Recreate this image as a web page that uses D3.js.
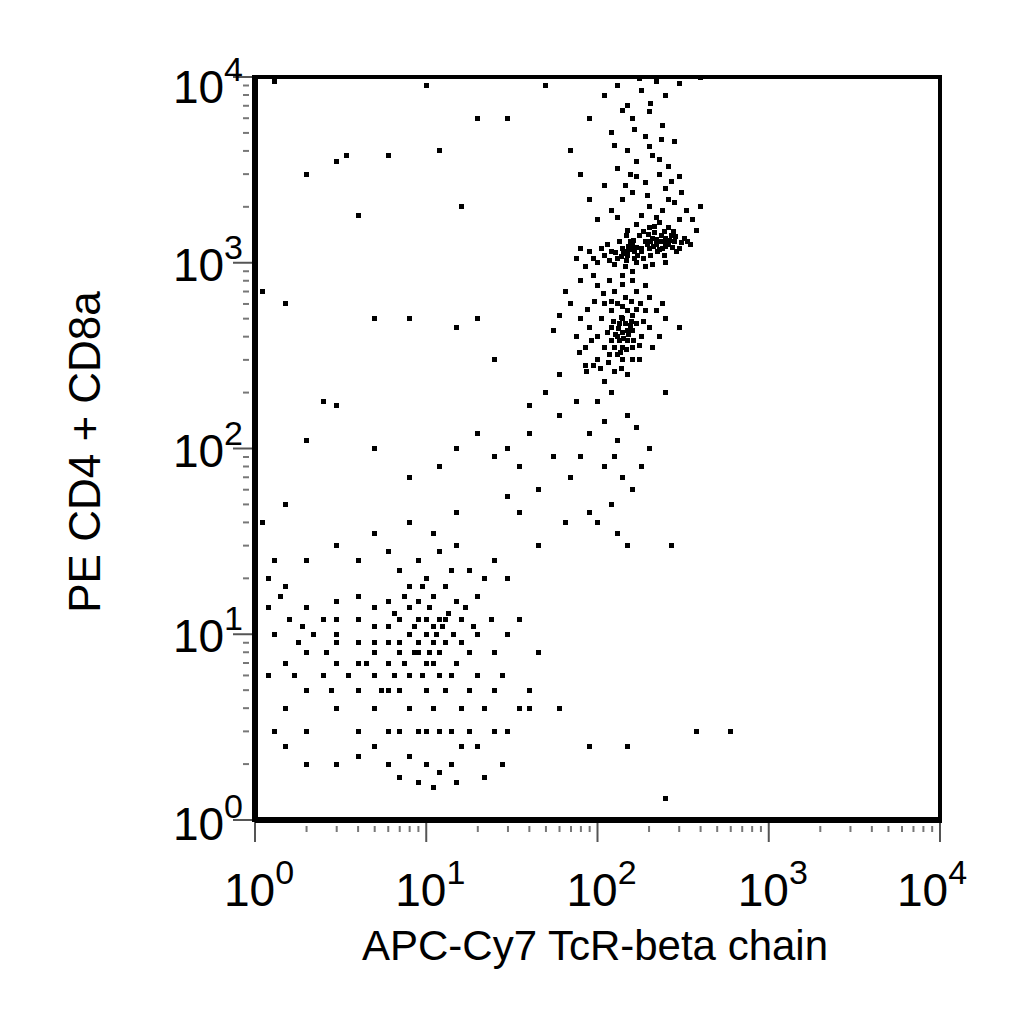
<!DOCTYPE html>
<html><head><meta charset="utf-8">
<script src="https://cdn.jsdelivr.net/npm/d3@7"></script>
<style>body{margin:0;background:#fff}</style></head>
<body><svg id="c" width="1024" height="1024"></svg>
<script>
const xTitle = "APC-Cy7 TcR-beta chain";
const yTitle = "PE CD4 + CD8a";
const decades = [0,1,2,3,4];
const clusterA = [[120,1150],[130,1050],[140,1200],[150,1100],[160,1250],[170,1000],[180,1150],[190,1300],[200,1200],[210,1350],[220,1250],[230,1300],[240,1200],[250,1350],[260,1250],[280,1300],[300,1200],[145,950],[155,1300],[165,1150],[175,1400],[185,1050],[195,1250],[205,1100],[215,1450],[225,1150],[235,1400],[245,1100],[270,1400],[290,1150],[135,1300],[125,980],[110,1100],[100,1000],[90,1150],[115,1250],[150,1500],[170,1600],[200,1550],[230,1650],[260,1550],[320,1350],[350,1250],[160,900],[190,950],[140,850],[210,980],[250,1000],[180,1200],[205,1300],[150,1150],[165,1050],[230,1180],[255,1280],[142,1120],[158,1180],[148,1030],[172,1090],[162,1320],[152,1230],[138,1080],[168,1210],[240,1300],[250,1230],[265,1320],[275,1210],[220,1330],[212,1220],[285,1380],[310,1280],[335,1300],[128,1140],[118,1030],[105,1200],[95,1050],[85,950],[80,1200],[75,1050],[148,1400],[185,1480],[215,1560],[245,1480],[278,1480],[198,1420]];
const clusterB = [[100,400],[110,350],[120,450],[130,400],[140,500],[150,380],[160,430],[170,470],[130,320],[140,300],[150,550],[120,550],[110,600],[160,350],[180,400],[190,550],[200,450],[100,300],[90,450],[85,350],[130,600],[145,650],[170,700],[125,700],[140,420],[135,380],[155,460],[115,420],[105,500],[175,300],[95,280],[125,260],[150,250],[110,230],[80,500],[75,400],[70,600],[65,700],[80,800],[95,850],[200,650],[220,550],[250,500],[230,400],[300,450],[140,350],[160,520],[120,380],[150,430],[135,470],[128,410],[142,390],[132,440],[146,470],[138,510],[124,480],[152,410],[158,480],[136,330],[126,350],[118,320],[148,340],[162,380],[168,560],[178,600],[158,620],[140,580],[120,620],[108,680],[96,620],[88,560],[92,380],[78,330],[86,260],[104,270],[116,290],[138,270],[160,300],[175,360],[185,480],[60,520],[55,430],[210,350],[240,600],[190,750],[160,800],[140,760],[118,800],[100,750]];
const upper = [[130,9000],[180,8500],[220,9500],[250,8000],[300,9200],[150,7000],[200,6500],[160,6000],[240,5500],[120,5000],[190,4800],[280,4500],[150,4000],[210,3800],[170,3500],[260,3300],[130,3200],[230,3000],[300,2900],[190,2700],[110,2600],[250,2500],[160,2400],[140,2200],[280,2100],[200,2000],[120,1900],[330,1900],[180,1800],[360,1700],[100,1700],[220,1750],[400,2000],[380,1500],[90,2200],[80,3000],[70,4000],[90,6000],[110,8000],[200,4200],[170,2900],[145,2600],[260,2200],[310,2400],[230,3600],[130,1750],[165,5200],[205,7200],[140,6600],[175,9800],[235,4600],[270,2750],[125,4300],[155,3000],[195,2300],[240,1900],[300,1700]];
const bridge = [[120,200],[100,180],[150,150],[90,120],[130,110],[80,90],[110,80],[140,70],[60,150],[50,200],[40,120],[30,100],[180,80],[160,60],[120,50],[100,40],[130,35],[150,30],[90,45],[70,70],[200,100],[250,200],[45,60],[35,80],[25,90],[20,120],[15,100],[60,250],[75,180],[85,280],[25,300],[40,170],[55,90],[65,40],[45,30],[35,45],[110,140],[125,90],[170,130],[30,55]];
const sparse = [[3,3500],[3.4,3800],[6,3800],[20,6000],[30,6000],[10,9000],[16,2000],[4,1800],[2,3000],[1.3,9500],[1.5,600],[5,500],[8,500],[15,450],[20,500],[2.5,180],[3,170],[2,110],[1.5,50],[5,100],[12,80],[8,70],[270,30],[600,3],[380,3],[250,1.3],[150,2.5],[90,2.5],[60,4],[40,4],[400,10000],[12,4000],[50,9000],[1.1,700],[1.1,40],[1.2,20]];
const lowerLeft = [[9,8],[10,10],[8,6],[11,7],[12,12],[7,9],[6,7],[13,9],[14,6],[9,12],[8,14],[10,5],[11,4],[7,5],[6,11],[5,8],[5,6],[4,9],[4,5],[3,7],[3,10],[2.5,6],[2.5,12],[2,8],[2,5],[1.5,7],[1.5,4],[1.3,10],[1.2,6],[1.3,3],[2,3],[3,4],[4,3],[5,4],[6,3],[7,3],[8,4],[9,3],[10,3],[12,3],[14,3],[16,4],[18,5],[20,6],[22,4],[25,5],[18,8],[20,10],[16,12],[15,15],[13,18],[10,20],[8,18],[6,15],[5,14],[4,16],[3,15],[2,14],[1.6,12],[1.4,16],[7,22],[9,25],[12,28],[6,28],[4,25],[11,35],[15,30],[18,22],[20,16],[24,12],[25,8],[28,6],[30,10],[22,20],[14,22],[17,14],[19,11],[16,9],[15,7],[13,5],[12,6],[11,9],[10,12],[9,15],[8,10],[7,12],[6,9],[5,11],[4,12],[3,12],[2.2,10],[1.8,9],[1.7,6],[2.8,5],[3.5,6],[4.5,7],[5.5,5],[6.5,6],[7.5,7],[8.5,8],[9.5,6],[10.5,8],[11.5,10],[12.5,11],[13.5,13],[14.5,10],[8,2.2],[10,2],[12,1.8],[14,2],[6,2],[5,2.5],[4,2.2],[16,2.5],[18,3],[20,2.5],[25,3],[30,3],[9,1.6],[11,1.5],[7,1.7],[15,1.6],[3,2],[2,2],[1.5,2.5],[22,1.7],[28,2],[35,4],[40,5],[45,8],[35,12],[30,20],[25,25],[3,30],[2,25],[5,35],[8,40],[15,45],[1.3,25],[1.2,14],[1.5,18],[6.5,13],[7.5,16],[9.5,18],[10.5,14],[11,16],[13,12],[8.5,11],[7,8],[9,9],[10,7],[12,8],[11,11],[6,5],[5,9],[4,7],[3,9],[2.6,8],[1.9,11]];
const baseline = [[1.3,1],[1.6,1],[2,1],[2.4,1],[3,1],[3.5,1],[4,1],[4.7,1],[5.5,1],[6,1],[7,1],[8,1],[9,1],[10,1],[11,1],[13,1],[15,1],[17,1],[20,1],[23,1],[27,1],[32,1],[38,1],[45,1],[55,1],[65,1],[75,1],[90,1],[110,1],[130,1]];

const svg = d3.select("#c");
const L=255,R=940,T=77,B=820;
const x = d3.scaleLog().domain([1,1e4]).range([L,R]);
const y = d3.scaleLog().domain([1,1e4]).range([B,T]);

const all = [].concat(clusterA,clusterB,upper,bridge,sparse,lowerLeft,baseline);
svg.append("g").attr("shape-rendering","crispEdges").selectAll("rect").data(all).join("rect")
  .attr("x",d=>Math.round(x(d[0])-2.5)).attr("y",d=>Math.round(y(d[1])-2.5))
  .attr("width",5).attr("height",5).attr("fill","#000");

const minors = [];
for (let dd=0; dd<4; dd++) for (let m=2;m<=9;m++) minors.push(m*Math.pow(10,dd));
svg.append("g").selectAll("line").data(minors).join("line")
  .attr("x1",d=>x(d)).attr("x2",d=>x(d)).attr("y1",B+6).attr("y2",B+12).attr("stroke","#777").attr("stroke-width",2);
svg.append("g").selectAll("line").data(minors).join("line")
  .attr("y1",d=>y(d)).attr("y2",d=>y(d)).attr("x1",L-6).attr("x2",L-12).attr("stroke","#777").attr("stroke-width",2);
const majors = decades.map(e=>Math.pow(10,e));
svg.append("g").selectAll("line").data(majors).join("line")
  .attr("x1",d=>x(d)).attr("x2",d=>x(d)).attr("y1",B).attr("y2",B+22).attr("stroke","#555").attr("stroke-width",2);
svg.append("g").selectAll("line").data(majors).join("line")
  .attr("y1",d=>y(d)).attr("y2",d=>y(d)).attr("x1",L).attr("x2",L-22).attr("stroke","#555").attr("stroke-width",2);

svg.append("rect").attr("x",L).attr("y",T).attr("width",R-L).attr("height",B-T)
  .attr("fill","none").attr("stroke","#000").attr("stroke-width",4);
svg.append("line").attr("x1",L).attr("x2",R+2).attr("y1",B).attr("y2",B).attr("stroke","#000").attr("stroke-width",6);
svg.append("line").attr("x1",L).attr("x2",L).attr("y1",T-2).attr("y2",B+2).attr("stroke","#000").attr("stroke-width",6);

const font = "Liberation Sans, Arial, sans-serif";
decades.forEach(e=>{
  const t = svg.append("text").attr("x",x(Math.pow(10,e))+(e===4?-8:4)).attr("y",B+86)
    .attr("text-anchor","middle").attr("font-family",font).attr("font-size",46).attr("fill","#000");
  t.append("tspan").text("10");
  t.append("tspan").attr("dy",-22).attr("font-size",34).text(e);
  const u = svg.append("text").attr("x",L-12).attr("y",y(Math.pow(10,e))+(e===4?26:(e===0?20:18)))
    .attr("text-anchor","end").attr("font-family",font).attr("font-size",46).attr("fill","#000");
  u.append("tspan").text("10");
  u.append("tspan").attr("dy",-22).attr("font-size",34).text(e);
});
svg.append("text").attr("x",595).attr("y",960).attr("text-anchor","middle")
  .attr("font-family",font).attr("font-size",42).text(xTitle);
svg.append("text").attr("transform","translate(100,452) rotate(-90)").attr("text-anchor","middle")
  .attr("font-family",font).attr("font-size",44).text(yTitle);
</script></body></html>
